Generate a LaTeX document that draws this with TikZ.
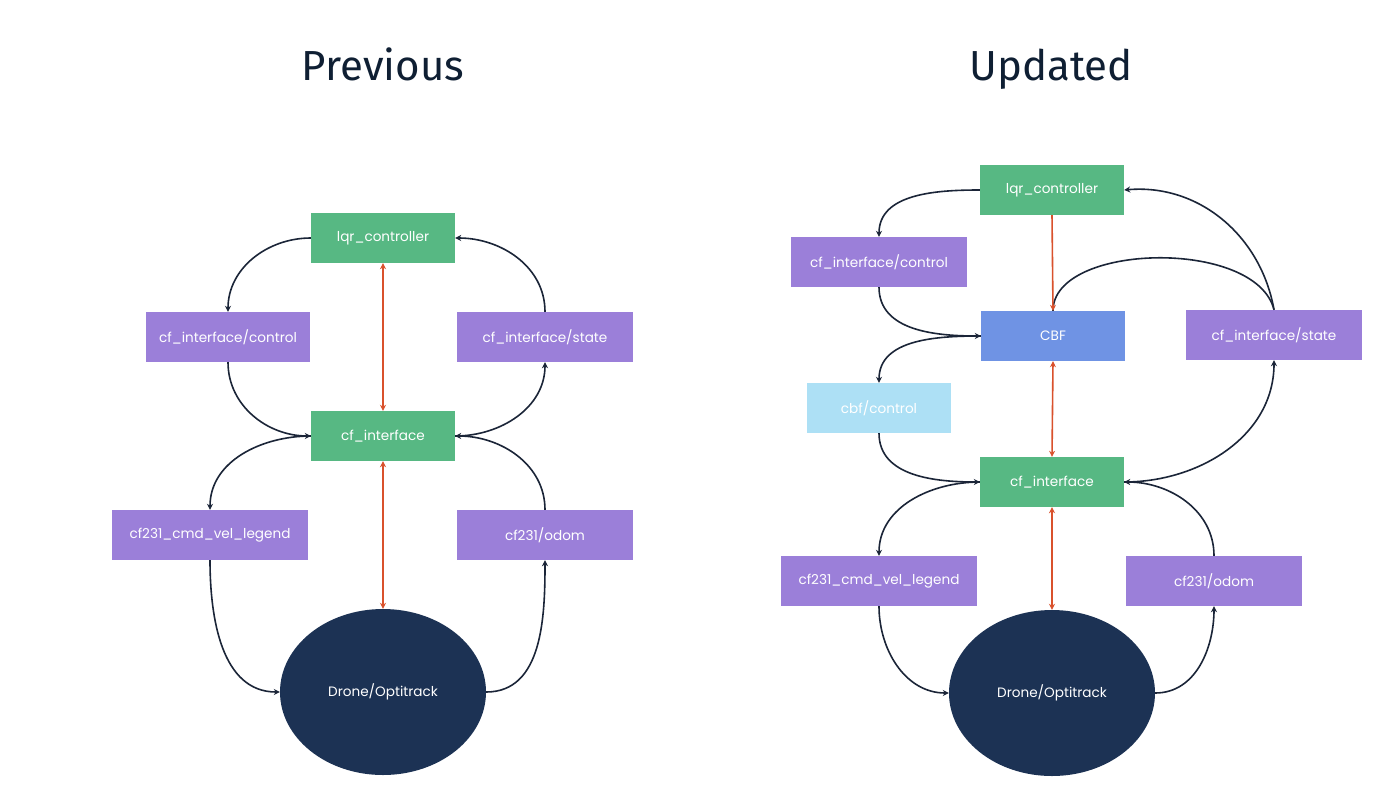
\documentclass[tikz,border=0pt]{standalone}
\usepackage{fontspec}
\usetikzlibrary{shapes.geometric,arrows.meta}
\newfontfamily\nodefont{Poppins}
\newfontfamily\titlefont{Fira Sans}
\definecolor{grn}{HTML}{57B883}
\definecolor{prp}{HTML}{9B7FD9}
\definecolor{cbfblue}{HTML}{6F93E4}
\definecolor{ltblue}{HTML}{ADE0F5}
\definecolor{navy}{HTML}{1C3254}
\definecolor{redc}{HTML}{D9512C}
\definecolor{arrc}{HTML}{1B2538}
\definecolor{titlec}{HTML}{0F1F33}
\begin{document}
\begin{tikzpicture}[x=1pt,y=1pt,
  box/.style={rectangle,minimum height=50pt,inner sep=0pt,text=white,font=\nodefont\fontsize{13.6}{15}\selectfont},
  gbox/.style={box,fill=grn},
  pbox/.style={box,fill=prp},
  bbox/.style={box,fill=cbfblue},
  lbbox/.style={box,fill=ltblue},
  drone/.style={ellipse,fill=navy,minimum width=206pt,minimum height=166pt,inner sep=0pt,text=white,font=\nodefont\fontsize{13.6}{15}\selectfont},
  edge/.style={draw=arrc,line width=1.6pt,-{Stealth[length=6pt,width=6pt]}},
  plain/.style={draw=arrc,line width=1.6pt},
  redsingle/.style={draw=redc,line width=1.6pt,-{Stealth[length=6pt,width=6pt]}},
  reddouble/.style={draw=redc,line width=1.6pt,{Stealth[length=6pt,width=6pt]}-{Stealth[length=6pt,width=6pt]}},
  ttl/.style={text=titlec,anchor=base,font=\titlefont\fontsize{42}{48}\selectfont}
]
\useasboundingbox (0,0) rectangle (1376,-809);
\fill[white] (0,0) rectangle (1376,-809);

% titles
\node[ttl] (t1) at (383,-80) {Previous};
\node[ttl] (t2) at (1051,-80) {Updated};

% ---------------- Left diagram ----------------
\node[gbox,minimum width=144pt] (Llqr) at (383,-238) {lqr\_controller};
\node[pbox,minimum width=164pt] (Lctl) at (228,-337) {cf\_interface/control};
\node[pbox,minimum width=176pt] (Lst) at (545,-337) {cf\_interface/state};
\node[gbox,minimum width=144pt] (Lcf) at (383,-436) {cf\_interface};
\node[pbox,minimum width=196pt] (Lcmd) at (210,-535) {cf231\_cmd\_vel\_legend};
\node[pbox,minimum width=176pt] (Lod) at (545,-535) {cf231/odom};
\node[drone] (Ldr) at (383,-692) {Drone/Optitrack};

\draw[edge] (Llqr.west) to[out=180,in=90] (Lctl.north);
\draw[edge] (Lctl.south) to[out=-90,in=180] (Lcf.west);
\draw[edge] (Lcf.west) to[out=180,in=90] (Lcmd.north);
\draw[edge] (Lcmd.south) to[out=-90,in=180] (Ldr.west);
\draw[edge] (Ldr.east) to[out=0,in=-90] (Lod.south);
\draw[edge] (Lod.north) to[out=90,in=0] (Lcf.east);
\draw[edge] (Lcf.east) to[out=0,in=-90] (Lst.south);
\draw[edge] (Lst.north) to[out=90,in=0] (Llqr.east);
\draw[reddouble] (Llqr.south) -- (Lcf.north);
\draw[reddouble] (Lcf.south) -- (Ldr.north);

% ---------------- Right diagram ----------------
\node[gbox,minimum width=144pt] (Rlqr) at (1052,-190) {lqr\_controller};
\node[pbox,minimum width=176pt] (Rctl) at (879,-262) {cf\_interface/control};
\node[bbox,minimum width=144pt] (Rcbf) at (1053,-336) {CBF};
\node[pbox,minimum width=176pt] (Rst) at (1274,-335) {cf\_interface/state};
\node[lbbox,minimum width=144pt] (Rcc) at (879,-408) {cbf/control};
\node[gbox,minimum width=144pt] (Rcf) at (1052,-482) {cf\_interface};
\node[pbox,minimum width=196pt] (Rcmd) at (879,-581) {cf231\_cmd\_vel\_legend};
\node[pbox,minimum width=176pt] (Rod) at (1214,-581) {cf231/odom};
\node[drone] (Rdr) at (1052,-693) {Drone/Optitrack};

\draw[edge] (Rlqr.west) to[out=180,in=90] (Rctl.north);
\draw[edge] (Rctl.south) to[out=-90,in=180] (Rcbf.west);
\draw[edge] (Rcbf.west) to[out=180,in=90] (Rcc.north);
\draw[edge] (Rcc.south) to[out=-90,in=180] (Rcf.west);
\draw[edge] (Rcf.west) to[out=180,in=90] (Rcmd.north);
\draw[edge] (Rcmd.south) to[out=-90,in=180] (Rdr.west);
\draw[edge] (Rdr.east) to[out=0,in=-90] (Rod.south);
\draw[edge] (Rod.north) to[out=90,in=0] (Rcf.east);
\draw[edge] (Rcf.east) to[out=0,in=-90] (Rst.south);
\draw[edge] (Rst.north) to[out=100,in=5] (Rlqr.east);
\draw[plain] (Rst.north) .. controls +(-18,72) and +(0,68) .. (Rcbf.north);
\draw[redsingle] (Rlqr.south) -- (Rcbf.north);
\draw[reddouble] (Rcbf.south) -- (Rcf.north);
\draw[reddouble] (Rcf.south) -- (Rdr.north);
\end{tikzpicture}
\end{document}
